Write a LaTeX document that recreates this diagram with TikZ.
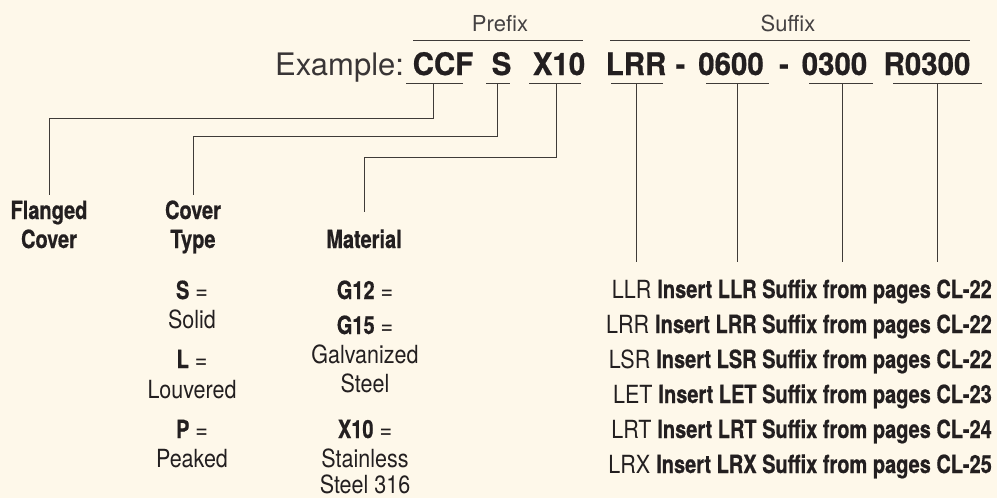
\documentclass[tikz,border=0pt]{standalone}
\usepackage{fontspec}
\setmainfont{TeX Gyre Heros}
\newfontfamily\cond[FakeStretch=0.86,BoldFeatures={FakeStretch=0.8,FakeBold=0.6}]{TeX Gyre Heros}
\newfontfamily\codefont[FakeStretch=0.95,BoldFeatures={FakeStretch=0.95,FakeBold=0.6}]{TeX Gyre Heros}
\definecolor{bg}{HTML}{FEF8EA}
\definecolor{ink}{HTML}{231F20}
\definecolor{rulec}{HTML}{3F3B38}
\tikzset{
  lbl/.style={font=\cond\fontsize{25}{29}\selectfont, text=ink, inner sep=0pt, anchor=base},
  codetxt/.style={font=\codefont\bfseries\fontsize{31}{34}\selectfont, text=ink, inner sep=0pt, anchor=base},
  exmp/.style={font=\fontsize{31}{34}\selectfont, text=ink!90, inner sep=0pt, anchor=base west},
  head/.style={font=\fontsize{22}{24}\selectfont, text=ink!85, inner sep=0pt, anchor=base},
  conn/.style={draw=rulec, line width=1pt},
  uline/.style={draw=rulec, line width=1pt},
}
\begin{document}
\begin{tikzpicture}[x=1pt,y=-1pt]
\fill[bg] (0,0) rectangle (997,498);
\useasboundingbox (0,0) rectangle (997,498);

% headers
\node[head] (prefix) at (500,31) {Prefix};
\node[head] (suffix) at (788,31) {Suffix};
\draw[uline] (413,40) -- (583,40);
\draw[uline] (610,40) -- (970,40);

% example code
\node[exmp] (ex) at (275,75) {Example:};
\node[codetxt] (ccf) at (443,75) {CCF};
\node[codetxt] (s) at (501.5,75) {S};
\node[codetxt] (x10) at (559,75) {X10};
\node[codetxt] (lrr) at (636,75) {LRR};
\node[codetxt] (d1) at (680.5,75) {-};
\node[codetxt] (n600) at (731,75) {0600};
\node[codetxt] (d2) at (784,75) {-};
\node[codetxt] (n300) at (834.5,75) {0300};
\node[codetxt] (r300) at (927,75) {R0300};

% underlines
\draw[uline] (406,83) -- (463,83);
\draw[uline] (486,83) -- (510,83);
\draw[uline] (529,83) -- (581,83);
\draw[uline] (611,83) -- (663,83);
\draw[uline] (706,83) -- (769,83);
\draw[uline] (809,83) -- (873,83);
\draw[uline] (893,83) -- (982,83);

\coordinate (ccfu) at (433,83);
\coordinate (su) at (497,83);
\coordinate (x10u) at (556,83);
\coordinate (lrru) at (636,83);
\coordinate (n600u) at (737,83);
\coordinate (n300u) at (842,83);
\coordinate (r300u) at (937,83);

% category labels
\node[lbl] (flg1) at (49,219) {\bfseries Flanged};
\node[lbl] (flg2) at (49,248) {\bfseries Cover};
\node[lbl] (cov1) at (193,219) {\bfseries Cover};
\node[lbl] (cov2) at (193,248) {\bfseries Type};
\node[lbl] (mat) at (364,248) {\bfseries Material};

% connectors to prefix labels
\draw[conn] (ccfu) -- ++(0,35) -| ([yshift=6pt]flg1.north);
\draw[conn] (su) -- ++(0,53) -| ([yshift=5.5pt]cov1.north);
\draw[conn] (x10u) -- ++(0,74) -| ([yshift=17pt]mat.north);

% cover type list
\node[lbl] (ts) at (192,299) {\textbf{S} =};
\node[lbl] (tsd) at (192,328) {Solid};
\node[lbl] (tl) at (192,368) {\textbf{L} =};
\node[lbl] (tld) at (192,398) {Louvered};
\node[lbl] (tp) at (192,438) {\textbf{P} =};
\node[lbl] (tpd) at (192,467) {Peaked};

% material list
\node[lbl] (g12) at (365,299) {\textbf{G12} =};
\node[lbl] (g15) at (365,334) {\textbf{G15} =};
\node[lbl] (gal) at (365,363) {Galvanized};
\node[lbl] (gst) at (365,392) {Steel};
\node[lbl] (mx10) at (365,438) {\textbf{X10} =};
\node[lbl] (sta) at (365,467) {Stainless};
\node[lbl] (s316) at (365,493) {Steel 316};

% suffix list
\node[lbl, anchor=base east] (r1) at (992,298) {LLR \textbf{Insert LLR Suffix from pages CL-22}};
\node[lbl, anchor=base east] (r2) at (992,333) {LRR \textbf{Insert LRR Suffix from pages CL-22}};
\node[lbl, anchor=base east] (r3) at (992,368) {LSR \textbf{Insert LSR Suffix from pages CL-22}};
\node[lbl, anchor=base east] (r4) at (992,403) {LET \textbf{Insert LET Suffix from pages CL-23}};
\node[lbl, anchor=base east] (r5) at (992,438) {LRT \textbf{Insert LRT Suffix from pages CL-24}};
\node[lbl, anchor=base east] (r6) at (992,473) {LRX \textbf{Insert LRX Suffix from pages CL-25}};

% suffix connectors
\coordinate (e1) at (636,262);
\coordinate (e2) at (737,262);
\coordinate (e3) at (842,262);
\coordinate (e4) at (937,262);
\draw[conn] (lrru) -- (e1);
\draw[conn] (n600u) -- (e2);
\draw[conn] (n300u) -- (e3);
\draw[conn] (r300u) -- (e4);
\end{tikzpicture}
\end{document}
